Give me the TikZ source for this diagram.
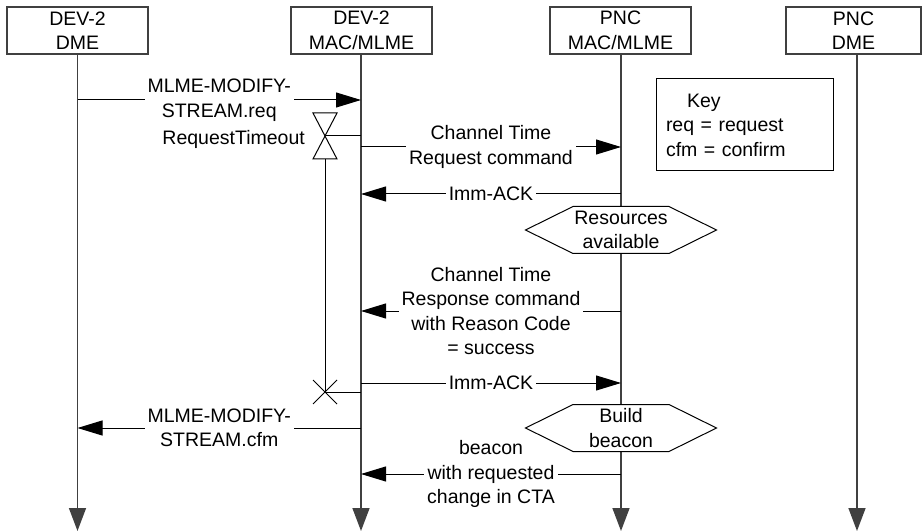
\documentclass[tikz,border=0pt]{standalone}
\usepackage{fontspec}
\setmainfont{Liberation Sans}
\usetikzlibrary{arrows.meta}
\definecolor{lifegray}{RGB}{64,64,64}
\begin{document}
\begin{tikzpicture}[x=1pt,y=-1pt,
  every node/.style={font=\fontsize{19.5pt}{24.5pt}\selectfont, text=black},
  box/.style={draw=lifegray, line width=1.2pt, minimum width=141pt, minimum height=47pt, align=center, inner sep=0pt},
  life/.style={draw=lifegray, line width=1.5pt, -{Triangle[length=23pt,width=17pt]}},
  msg/.style={draw=black, line width=1pt, -{Triangle[length=25pt,width=15pt]}},
  lbl/.style={fill=white, align=center, inner sep=3pt},
  hex/.style={draw=black, line width=1pt, fill=white},
  thinline/.style={draw=black, line width=1pt}
]
\useasboundingbox (0,0) rectangle (922,532);

% lifeline heads
\node[box] (b1) at (77.5,30.5) {DEV-2\\DME};
\node[box] (b2) at (361.5,30.5) {DEV-2\\MAC/MLME};
\node[box] (b3) at (620.5,30.5) {PNC\\MAC/MLME};
\node[box, minimum width=135pt] (b4) at (853.5,30.5) {PNC\\DME};

\coordinate (e1) at (77.5,531);
\coordinate (e2) at (361,531);
\coordinate (e3) at (621,531);
\coordinate (e4) at (857,531);
\draw[life] (b1.south -| e1) -- (e1);
\draw[life] (b2.south -| e2) -- (e2);
\draw[life] (b3.south -| e3) -- (e3);
\draw[life] (b4.south -| e4) -- (e4);

% key
\node[draw=black, line width=1pt, minimum width=177pt, minimum height=92pt, align=left, text width=157pt, inner xsep=10pt, inner ysep=0pt] (key) at (744.5,125) {\hspace*{21pt}Key\\req = request\\cfm = confirm};

% message levels
\coordinate (m1) at (0,100);
\coordinate (m2) at (0,147);
\coordinate (m3) at (0,194);
\coordinate (m4) at (0,311);
\coordinate (m5) at (0,383);
\coordinate (m6) at (0,428);
\coordinate (m7) at (0,474);

\draw[msg] (e1 |- m1) -- node[lbl] {MLME-MODIFY-\\STREAM.req} (e2 |- m1);
\draw[msg] (e2 |- m2) -- node[lbl] {Channel Time\\Request command} (e3 |- m2);
\draw[msg] (e3 |- m3) -- node[lbl] {Imm-ACK} (e2 |- m3);
\draw[msg] (e3 |- m4) -- node[lbl] {Channel Time\\Response command\\with Reason Code\\= success} (e2 |- m4);
\draw[msg] (e2 |- m5) -- node[lbl] {Imm-ACK} (e3 |- m5);
\draw[msg] (e2 |- m6) -- node[lbl] {MLME-MODIFY-\\STREAM.cfm} (e1 |- m6);
\draw[msg] (e3 |- m7) -- node[lbl] {beacon\\with requested\\change in CTA} (e2 |- m7);

% request timeout timer
\coordinate (hg) at (325,136);
\coordinate (xx) at (325,392);
\draw[thinline] (hg) -- (e2 |- hg);
\draw[thinline, fill=white] (313,113) -- (337,113) -- (hg) -- cycle;
\draw[thinline, fill=white] (hg) -- (337,159) -- (313,159) -- cycle;
\draw[thinline] (325,159) -- (xx);
\draw[thinline] (313,380) -- (337,404);
\draw[thinline] (313,404) -- (337,380);
\draw[thinline] (xx) -- (e2 |- xx);
\node[anchor=east, inner sep=0pt] (rt) at (305,139) {RequestTimeout};

% hexagons
\coordinate (h1) at (621,230);
\coordinate (h2) at (621,428);
\draw[hex, shift={(h1)}] (-48,-23.5) -- (48,-23.5) -- (95.5,0) -- (48,23.5) -- (-48,23.5) -- (-95.5,0) -- cycle;
\node[align=center, inner sep=0pt] (res) at (h1) {Resources\\available};
\draw[hex, shift={(h2)}] (-48,-23.5) -- (48,-23.5) -- (95.5,0) -- (48,23.5) -- (-48,23.5) -- (-95.5,0) -- cycle;
\node[align=center, inner sep=0pt] (bld) at (h2) {Build\\beacon};
\end{tikzpicture}
\end{document}
